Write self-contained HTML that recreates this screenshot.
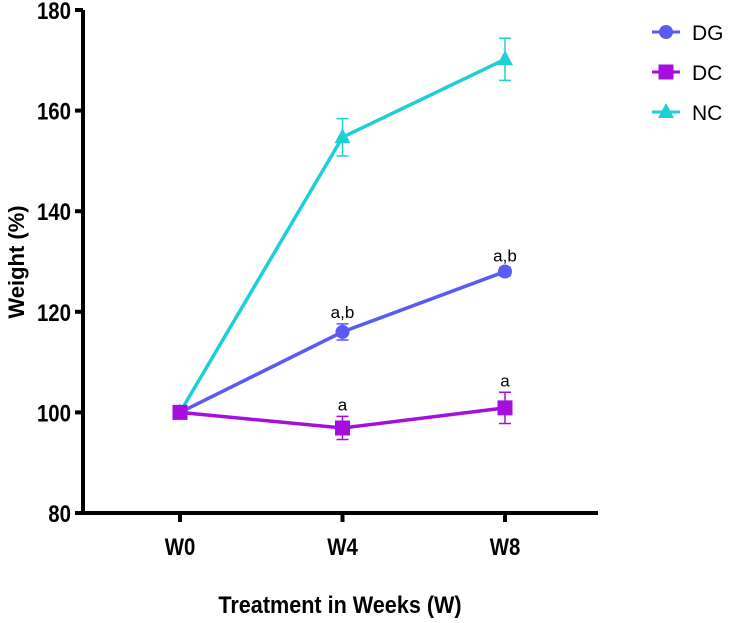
<!DOCTYPE html>
<html><head><meta charset="utf-8"><style>
body{margin:0;background:#fff;}
svg{display:block;font-family:"Liberation Sans",Arial,sans-serif;}
</style></head><body>
<svg id="chart" width="734" height="623" viewBox="0 0 734 623" xmlns="http://www.w3.org/2000/svg"></svg>
<script>
const categories=["W0","W4","W8"];
const yTicks=[80,100,120,140,160,180];
const dgValues=[100,116,128];
const dgErrors=[0,1.6,0.8];
const dcValues=[100,96.9,100.9];
const dcErrors=[0,2.3,3.1];
const ncValues=[100,154.7,170.2];
const ncErrors=[0,3.7,4.2];
const dgLabels=["","a,b","a,b"];
const dcLabels=["","a","a"];

const svg=document.getElementById('chart');
const NS='http://www.w3.org/2000/svg';
const xPos=[180,343,505];
function x(i){return xPos[0]+(xPos[2]-xPos[0])*i/(categories.length-1);}
function y(v){return 513-(v-80)*(503/100);}
function el(tag,attrs,parent){const e=document.createElementNS(NS,tag);for(const k in attrs)e.setAttribute(k,attrs[k]);(parent||svg).appendChild(e);return e;}

let a=el('line',{x1:83,y1:10,x2:83,y2:515,stroke:'#000','stroke-width':4});


a=el('line',{x1:81,y1:513,x2:598,y2:513,stroke:'#000','stroke-width':4});


yTicks.forEach(t=>{
  const l=el('line',{x1:75,y1:y(t),x2:83,y2:y(t),stroke:'#000','stroke-width':4});
  
  
  const tx=el('text',{x:0,y:0,'text-anchor':'end','font-size':24,'font-weight':'bold',transform:`translate(71,${y(t)+9}) scale(0.85,1)`});
  tx.textContent=t;
  
  
});
categories.forEach((c,i)=>{
  const l=el('line',{x1:x(i),y1:513,x2:x(i),y2:522,stroke:'#000','stroke-width':4});
  
  
  const tx=el('text',{x:0,y:0,'text-anchor':'middle','font-size':24,'font-weight':'bold',transform:`translate(${x(i)},555) scale(0.85,1)`});
  tx.textContent=c;
  
  
});
let t=el('text',{x:0,y:0,'text-anchor':'middle','font-size':24,'font-weight':'bold',transform:'translate(340,613) scale(0.9,1)'});
t.textContent='Treatment in Weeks (W)';


t=el('text',{x:0,y:0,'text-anchor':'middle','font-size':22,'font-weight':'bold',transform:'translate(24,262) rotate(-90)'});
t.textContent='Weight (%)';



function marker(shape,cx,cy,color,g){
  let m;
  if(shape==='circle') m=el('circle',{cx:cx,cy:cy,r:7,fill:color},g);
  else if(shape==='square') m=el('rect',{x:cx-7.5,y:cy-7.5,width:15,height:15,fill:color},g);
  else m=el('polygon',{points:`${cx},${cy-9} ${cx+8},${cy+6} ${cx-8},${cy+6}`,fill:color},g);
  return m;
}
function series(name,vals,errs,color,shape,labels){
  const g=el('g',{});
  
  
  const p=el('polyline',{points:vals.map((v,i)=>x(i)+','+y(v)).join(' '),fill:'none',stroke:color,'stroke-width':3.5},g);
  
  
  vals.forEach((v,i)=>{
    if(errs[i]>0){
      const e=el('path',{d:`M${x(i)},${y(v+errs[i])}V${y(v-errs[i])}M${x(i)-6},${y(v+errs[i])}h12M${x(i)-6},${y(v-errs[i])}h12`,stroke:color,'stroke-width':1.5,fill:'none'},g);
      
      
    }
    const m=marker(shape,x(i),y(v),color,g);
    
    
    if(labels&&labels[i]){
      const lt=el('text',{x:x(i),y:y(v+errs[i])-6,'text-anchor':'middle','font-size':17},g);
      lt.textContent=labels[i];
      
      
    }
  });
}
series('nc',ncValues,ncErrors,'#1ecfd6','triangle',null);
series('dg',dgValues,dgErrors,'#5a5af5','circle',dgLabels);
series('dc',dcValues,dcErrors,'#a60ee0','square',dcLabels);

const leg=[['DG','#5a5af5','circle',32],['DC','#a60ee0','square',72],['NC','#1ecfd6','triangle',112]];
leg.forEach(([n,c,s,ly])=>{
  const g=el('g',{});
  
  
  el('line',{x1:652,y1:ly,x2:680,y2:ly,stroke:c,'stroke-width':3},g);
  marker(s,666,ly,c,g);
  const lt=el('text',{x:692,y:ly+8,'font-size':21},g);
  lt.textContent=n;
});
</script>
</body></html>
